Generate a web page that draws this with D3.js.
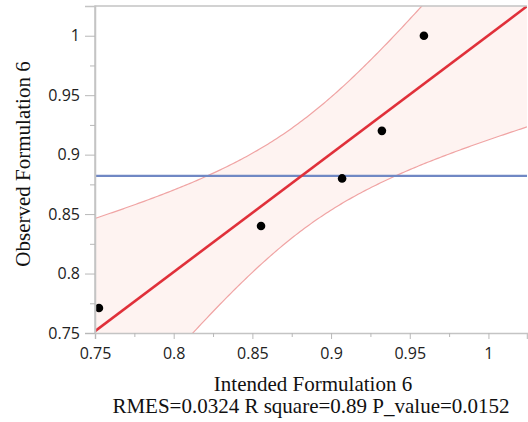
<!DOCTYPE html>
<html>
<head>
<meta charset="utf-8">
<script src="https://cdn.jsdelivr.net/npm/d3@7"></script>
<style>
  html, body { margin: 0; padding: 0; background: #fff; }
  svg { display: block; }
</style>
</head>
<body>
<svg id="chart" width="528" height="422"></svg>
<script>
// Intended vs observed values for formulation 6
const intended = [0.7525, 0.8555, 0.907, 0.9323, 0.959];
const observed = [0.771, 0.840, 0.880, 0.920, 1.000];
const xTicks = [0.75, 0.8, 0.85, 0.9, 0.95, 1];
const yTicks = [0.75, 0.8, 0.85, 0.9, 0.95, 1];
const xTitle = "Intended Formulation 6";
const yTitle = "Observed Formulation 6";
const statsText = "RMES=0.0324 R square=0.89 P_value=0.0152";

const m = { left: 95, top: 6, right: 527, bottom: 333 };

const svg = d3.select("#chart");
const x = d3.scaleLinear().domain([0.75, 1.0245]).range([m.left, m.right]);
const y = d3.scaleLinear().domain([0.75, 1.025]).range([m.bottom, m.top]);

// least-squares fit with 95% confidence band for the mean
const n = intended.length;
const mx = d3.mean(intended), my = d3.mean(observed);
const sxx = d3.sum(intended, v => (v - mx) ** 2);
const sxy = d3.sum(intended, (v, i) => (v - mx) * (observed[i] - my));
const slope = sxy / sxx, icpt = my - slope * mx;
const sse = d3.sum(intended, (v, i) => (observed[i] - (icpt + slope * v)) ** 2);
const s = Math.sqrt(sse / (n - 2));
const tCrit = 3.182; // t(0.975, df = 3)
const grid = d3.range(0, 201).map(i => 0.75 + (1.0245 - 0.75) * i / 200);
const band = grid.map(v => {
  const fit = icpt + slope * v;
  const half = tCrit * s * Math.sqrt(1 / n + (v - mx) ** 2 / sxx);
  return { v, fit, lo: fit - half, hi: fit + half };
});

svg.append("clipPath").attr("id", "plotclip")
  .append("rect").attr("x", m.left).attr("y", m.top)
  .attr("width", m.right - m.left).attr("height", m.bottom - m.top);

const plot = svg.append("g").attr("clip-path", "url(#plotclip)");

plot.append("path").datum(band)
  .attr("d", d3.area().x(d => x(d.v)).y0(d => y(d.lo)).y1(d => y(d.hi)))
  .attr("fill", "#fef3f1");
["lo", "hi"].forEach(k => {
  plot.append("path").datum(band)
    .attr("d", d3.line().x(d => x(d.v)).y(d => y(d[k])))
    .attr("fill", "none").attr("stroke", "#f0a4a4").attr("stroke-width", 1.2);
});

// mean of observed values
plot.append("line")
  .attr("x1", m.left).attr("x2", m.right)
  .attr("y1", y(my)).attr("y2", y(my))
  .attr("stroke", "#7088c4").attr("stroke-width", 2.2);

// fitted line
plot.append("line")
  .attr("x1", x(0.75)).attr("x2", x(1.0245))
  .attr("y1", y(icpt + slope * 0.75)).attr("y2", y(icpt + slope * 1.0245))
  .attr("stroke", "#e0303a").attr("stroke-width", 2.6);

plot.selectAll("circle").data(intended).join("circle")
  .attr("cx", d => x(d)).attr("cy", (d, i) => y(observed[i]))
  .attr("r", 4.3).attr("fill", "#000");

// frame
svg.append("path")
  .attr("d", `M${m.left},${m.bottom}V${m.top}H${m.right}`)
  .attr("fill", "none").attr("stroke", "#c4c4c4").attr("stroke-width", 1.5);

// axes
const minorX = d3.range(0.775, 1.02, 0.05);
const minorY = d3.range(0.775, 1.02, 0.05);

const xAxis = svg.append("g").attr("transform", `translate(0,${m.bottom})`)
  .call(d3.axisBottom(x).tickValues(xTicks).tickFormat(d3.format("~g")).tickSize(6).tickPadding(6));
svg.append("g").attr("transform", `translate(0,${m.bottom})`)
  .call(d3.axisBottom(x).tickValues(minorX).tickFormat("").tickSize(4))
  .call(g => g.select(".domain").remove());

svg.append("g").attr("transform", `translate(${m.left},0)`)
  .call(d3.axisLeft(y).tickValues(yTicks).tickFormat(d3.format("~g")).tickSize(10).tickPadding(5));
svg.append("g").attr("transform", `translate(${m.left},0)`)
  .call(d3.axisLeft(y).tickValues(minorY).tickFormat("").tickSize(5))
  .call(g => g.select(".domain").remove());

svg.selectAll(".domain").attr("stroke", "#c4c4c4").attr("stroke-width", 1.5);
svg.selectAll(".tick line").attr("stroke", "#b8b8b8");
svg.selectAll(".tick text")
  .attr("font-family", "'Open Sans', sans-serif")
  .attr("font-size", 16).attr("fill", "#222");
xAxis.selectAll(".tick text").attr("dy", "0.9em");

// titles
const serif = "'Liberation Serif', 'Times New Roman', serif";
svg.append("text")
  .attr("x", 313).attr("y", 391).attr("text-anchor", "middle")
  .attr("font-family", serif)
  .attr("font-size", 21).attr("fill", "#111").text(xTitle);

svg.append("text")
  .attr("transform", "translate(30,164) rotate(-90)")
  .attr("text-anchor", "middle")
  .attr("font-family", serif)
  .attr("font-size", 21).attr("fill", "#111").text(yTitle);

svg.append("text")
  .attr("x", 311).attr("y", 413).attr("text-anchor", "middle")
  .attr("font-family", serif)
  .attr("font-size", 21).attr("fill", "#111").text(statsText);
</script>
</body>
</html>
